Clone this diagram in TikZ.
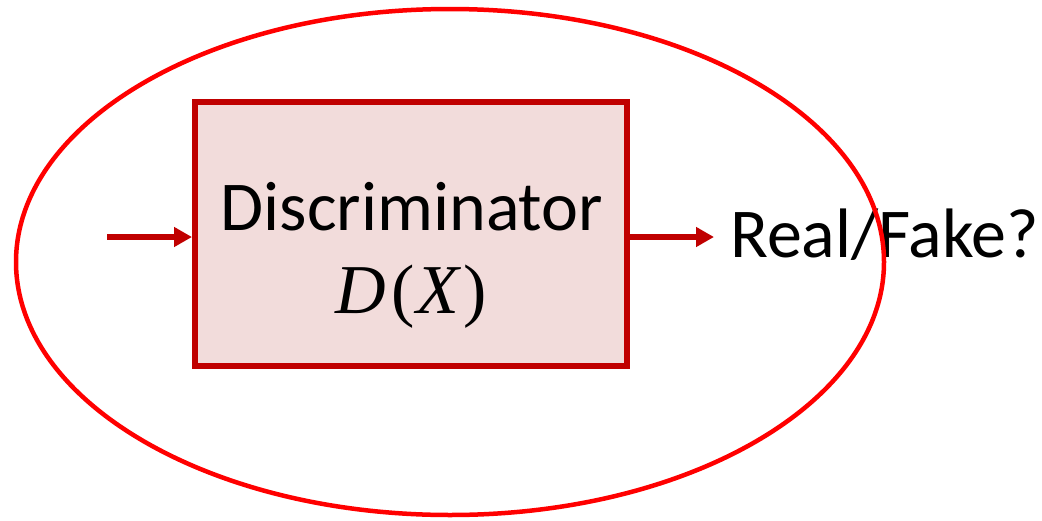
\documentclass[tikz,border=0pt]{standalone}
\usepackage{fontspec}
\setmainfont{Carlito}
\newfontfamily\mserif{Liberation Serif}
\usetikzlibrary{arrows.meta,shapes.geometric}
\definecolor{dred}{RGB}{192,0,0}
\definecolor{boxfill}{RGB}{242,220,219}
\definecolor{bred}{RGB}{255,0,0}
\tikzset{
  conn/.style={draw=dred,line width=6pt,-{Triangle[length=18pt,width=19pt]}},
  discbox/.style={draw=dred,fill=boxfill,line width=6pt,minimum width=432pt,minimum height=264pt,inner sep=0pt},
  lbl/.style={font=\fontsize{70}{80}\selectfont,inner sep=0pt}
}
\begin{document}
\begin{tikzpicture}[x=1pt,y=-1pt]
\useasboundingbox (0,0) rectangle (1042,520);
\node[discbox] (disc) at (411,234) {};
\node[lbl,anchor=base] (t1) at (412,230) {Discriminator};
\node[lbl,anchor=base] (t2) at (411,313) {\mserif\itshape D\kern6pt\upshape(\kern2pt\itshape X\kern4pt\upshape)};
\coordinate (in) at (107,237);
\draw[conn] (in) -- (disc.west |- in);
\node[lbl,anchor=base west] (out) at (730,257) {Real/Fake?};
\draw[conn] (disc.east |- in) -- (714,237) coordinate (outtip);
\node[draw=bred,line width=4.5pt,ellipse,minimum width=868pt,minimum height=506pt,inner sep=0pt] (ell) at (450,262) {};
\end{tikzpicture}
\end{document}
